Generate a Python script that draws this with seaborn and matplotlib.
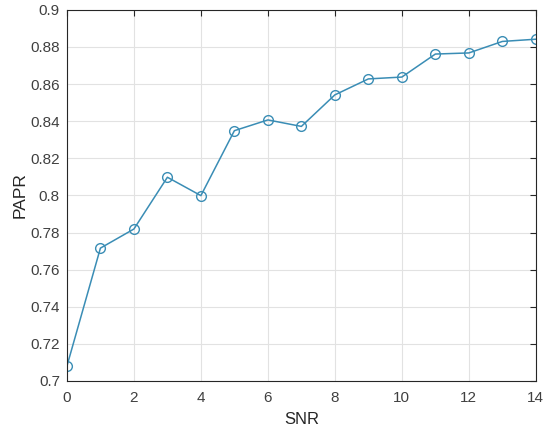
import numpy as np
import pandas as pd
import matplotlib
matplotlib.use('Agg')
import matplotlib.pyplot as plt
import seaborn as sns

# values
snr = [0, 1, 2, 3, 4, 5, 6, 7, 8, 9, 10, 11, 12, 13, 14]
papr = [0.708, 0.7716, 0.7819, 0.8098, 0.7999, 0.8349, 0.8407, 0.8372,
        0.8542, 0.8628, 0.8638, 0.8762, 0.8768, 0.8830, 0.8842]
xticks = [0, 2, 4, 6, 8, 10, 12, 14]
yticks = [0.7, 0.72, 0.74, 0.76, 0.78, 0.8, 0.82, 0.84, 0.86, 0.88, 0.9]
yticklabels = ['0.7', '0.72', '0.74', '0.76', '0.78', '0.8', '0.82', '0.84', '0.86', '0.88', '0.9']

sns.set_style('white')
plt.rcParams['font.family'] = ['Liberation Sans', 'DejaVu Sans']

df = pd.DataFrame({'SNR': snr, 'PAPR': papr})

fig = plt.figure(figsize=(5.44, 4.30), dpi=100)
ax = fig.add_axes([0.123, 0.114, 0.862, 0.863])

sns.lineplot(x='SNR', y='PAPR', data=df, color='#3a8db5', linewidth=1.1,
             marker='o', markersize=7, markerfacecolor='none',
             markeredgecolor='#3a8db5', markeredgewidth=1.0, ax=ax)

ax.set(xlim=(0, 14), ylim=(0.7, 0.9), xticks=xticks, yticks=yticks)
ax.set_yticklabels(yticklabels)
ax.grid(True, color='#e2e2e2', linewidth=0.8)
ax.set_axisbelow(True)
ax.tick_params(direction='in', top=True, right=True, length=4, width=0.8,
               labelsize=11, colors='#262626', labelcolor='#404040')
ax.tick_params(axis='x', pad=7)
ax.tick_params(axis='y', pad=5)
for s in ax.spines.values():
    s.set_color('#262626')
    s.set_linewidth(0.8)
ax.set_xlabel('SNR', fontsize=12, color='#262626', labelpad=5)
ax.set_ylabel('PAPR', fontsize=12.5, color='#262626', labelpad=2)

fig.savefig('out.png', dpi=100)
